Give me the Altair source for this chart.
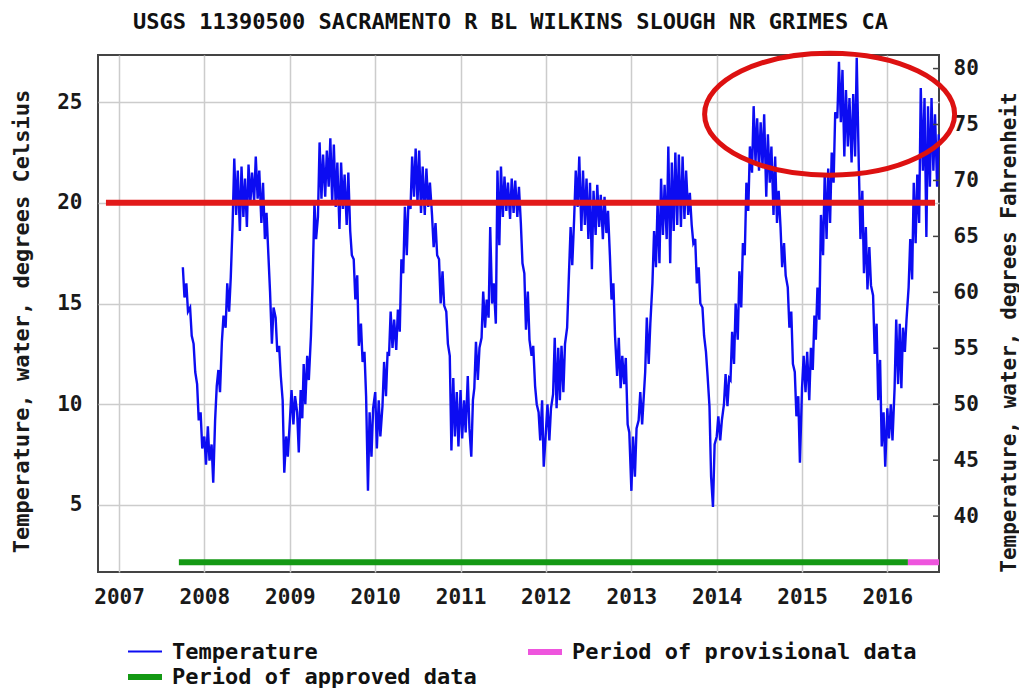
import altair as alt
import pandas as pd

FONT = "DejaVu Sans Mono"

TITLE = "USGS 11390500 SACRAMENTO R BL WILKINS SLOUGH NR GRIMES CA"
LEFT_TITLE = "Temperature, water, degrees Celsius"
RIGHT_TITLE = "Temperature, water, degrees Fahrenheit"

YEAR_TICKS = list(range(2007, 2017))
C_TICKS = [5, 10, 15, 20, 25]
F_TICKS = [40, 45, 50, 55, 60, 65, 70, 75, 80]
C_DOMAIN = [1.67, 27.34]
F_DOMAIN = [c * 9 / 5 + 32 for c in C_DOMAIN]

# approximate weekly readings (days of month), deg C
SAMPLE_DAYS = [1, 8, 16, 23]

t2007 = [16.8, 15.3, 16.0, 14.6, 14.8, 13.4, 13.0, 11.6, 11.0, 9.2, 9.6, 7.8]  # Oct-Dec
t2008 = [8.4, 7.0, 8.9, 7.2, 8.0, 6.1, 9.2, 10.9, 11.7, 10.6, 13.1, 14.4,
         13.8, 16.0, 14.6, 16.3, 19.0, 22.2, 19.4, 21.6, 18.6, 21.8, 19.3, 21.2,
         18.8, 21.9, 20.0, 21.5, 20.1, 22.3, 20.2, 21.6, 19.0, 21.0, 18.2, 19.5,
         17.4, 15.6, 13.0, 14.8, 14.3, 12.6, 12.9, 11.4, 10.2, 6.6, 8.4, 7.4]
t2009 = [9.2, 10.7, 9.0, 10.4, 9.6, 7.6, 10.7, 9.3, 12.0, 10.0, 12.4, 11.2,
         13.4, 16.0, 20.0, 18.2, 19.3, 23.0, 20.2, 22.4, 20.3, 22.6, 20.8, 23.2,
         20.0, 22.9, 19.8, 22.0, 18.7, 22.0, 19.7, 21.4, 18.9, 21.5, 18.6, 17.4,
         17.2, 15.2, 16.4, 12.9, 14.0, 12.1, 12.6, 10.4, 5.7, 9.6, 7.4, 9.8]
t2010 = [10.6, 7.8, 10.2, 8.4, 9.9, 12.1, 10.4, 12.6, 12.4, 14.6, 12.8, 14.2,
         12.7, 14.7, 13.6, 17.2, 16.5, 19.8, 17.4, 20.0, 19.7, 22.3, 20.3, 22.7,
         20.0, 22.6, 19.5, 21.8, 19.4, 21.7, 19.8, 21.0, 19.4, 17.8, 19.0, 17.4,
         17.2, 15.0, 16.6, 14.9, 14.6, 13.0, 12.4, 7.7, 11.3, 8.4, 10.6, 7.9]
t2011 = [10.7, 8.3, 10.2, 8.6, 11.4, 8.8, 7.4, 10.2, 10.8, 13.1, 11.2, 12.8,
         13.3, 15.6, 13.8, 15.2, 14.3, 18.8, 15.0, 16.0, 14.0, 21.6, 17.9, 21.8,
         19.3, 21.3, 19.6, 21.0, 19.2, 21.2, 19.5, 21.1, 19.3, 20.8, 19.0, 17.0,
         16.5, 13.7, 15.6, 13.2, 12.4, 12.9, 10.9, 10.0, 9.6, 8.2, 10.2, 6.9]
t2012 = [8.6, 10.0, 8.2, 9.8, 10.5, 13.3, 9.8, 12.8, 10.2, 12.9, 10.6, 13.0,
         13.8, 16.2, 18.8, 16.9, 19.2, 21.6, 19.8, 22.3, 18.6, 21.6, 18.9, 21.2,
         18.2, 21.0, 16.7, 20.6, 18.4, 20.9, 18.8, 20.4, 18.2, 20.3, 18.5, 19.6,
         17.4, 15.2, 16.0, 13.4, 11.4, 13.3, 10.8, 12.4, 11.0, 12.3, 9.0, 8.6]
t2013 = [5.7, 8.4, 6.4, 8.8, 9.2, 10.6, 9.0, 10.4, 11.6, 14.3, 12.0, 14.0,
         16.0, 18.6, 16.8, 20.0, 17.0, 21.2, 18.4, 20.9, 18.2, 22.8, 17.0, 22.0,
         18.6, 22.5, 18.9, 22.4, 18.8, 22.3, 19.2, 21.6, 19.4, 20.5, 18.9, 18.0,
         18.2, 16.0, 16.8, 15.0, 14.8, 13.4, 12.6, 11.4, 9.9, 6.4, 4.9, 8.0]
t2014 = [8.4, 9.4, 8.2, 9.2, 10.0, 11.5, 9.9, 11.3, 11.2, 13.6, 12.0, 15.0,
         13.2, 16.6, 14.8, 18.0, 17.4, 21.0, 19.6, 22.8, 21.5, 24.8, 22.0, 24.2,
         21.6, 24.0, 21.8, 24.4, 20.3, 23.4, 21.0, 22.8, 19.4, 22.3, 19.0, 20.6,
         18.8, 16.8, 18.0, 16.4, 15.8, 13.8, 14.6, 12.0, 11.6, 9.4, 10.4, 7.1]
t2015 = [10.8, 12.4, 10.6, 12.6, 10.2, 12.8, 11.7, 14.4, 13.2, 15.8, 14.2, 19.4,
         17.4, 21.4, 18.2, 21.7, 19.0, 22.5, 21.0, 24.5, 24.2, 27.0, 24.0, 26.6,
         22.3, 25.6, 22.8, 25.2, 22.0, 25.4, 22.3, 27.2, 21.8, 18.2, 20.6, 16.5,
         18.8, 15.7, 17.8, 15.9, 15.4, 12.5, 14.0, 10.2, 12.2, 7.9, 9.6, 6.9]
t2016 = [9.8, 8.3, 10.0, 8.2, 10.8, 14.2, 11.0, 14.0, 10.8, 13.8, 12.6, 14.2,
         15.8, 18.2, 16.2, 21.0, 18.0, 21.4, 19.0, 25.7, 21.6, 25.2, 18.3, 24.8,
         20.8, 25.2, 21.6, 24.4, 20.8, 23.4]  # Jan - early Aug

YEAR_SERIES = [(2007, 10, t2007), (2008, 1, t2008), (2009, 1, t2009), (2010, 1, t2010),
               (2011, 1, t2011), (2012, 1, t2012), (2013, 1, t2013), (2014, 1, t2014),
               (2015, 1, t2015), (2016, 1, t2016)]

# legend fills column by column: col 1 = Temperature / approved, col 2 = provisional
SERIES_NAMES = ["Temperature", "Period of approved data", "Period of provisional data"]
SERIES_COLORS = ["#0c0cf2", "#149914", "#ee55dd"]
SERIES_WIDTHS = [2.0, 6, 6]

period_names = ["Period of approved data", "Period of provisional data"]
period_start = ["2007-09-14", "2016-03-29"]
period_end = ["2016-03-29", "2016-08-09"]
period_level_c = [2.15, 2.15]

threshold_c = [20]
threshold_start = ["2006-11-06"]
threshold_end = ["2016-07-23"]

highlight_date = ["2015-04-29"]
highlight_c = [24.4]
ELLIPSE = "M -1 0 A 1 0.488 0 1 0 1 0 A 1 0.488 0 1 0 -1 0 Z"
LEGEND_STROKE = "M -1.7 0 L 1.7 0"

rows = []
for year, m0, vals in YEAR_SERIES:
    for i, v in enumerate(vals):
        m = m0 + i // 4
        d = SAMPLE_DAYS[i % 4]
        rows.append({"date": f"{year}-{m:02d}-{d:02d}", "c": v, "series": "Temperature"})
temp_df = pd.DataFrame(rows)

period_df = pd.DataFrame({"series": period_names, "start": period_start,
                          "end": period_end, "c": period_level_c})
thr_df = pd.DataFrame({"start": threshold_start, "end": threshold_end, "c": threshold_c})
hl_df = pd.DataFrame({"date": highlight_date, "c": highlight_c})
f_df = pd.DataFrame({"f": F_TICKS})

W, H = 841, 517

x_scale = alt.Scale(type="utc",
                    domain=[alt.DateTime(year=2006, month=10, date=3, utc=True),
                            alt.DateTime(year=2016, month=8, date=9, utc=True)])
x_axis = alt.Axis(values=[alt.DateTime(year=y, month=1, date=1, utc=True) for y in YEAR_TICKS],
                  format="%Y", grid=True, tickSize=0, domain=False, labelPadding=14,
                  title=None, labelFlush=False, labelOverlap=False)
c_scale = alt.Scale(domain=C_DOMAIN, nice=False, zero=False)
c_axis = alt.Axis(values=C_TICKS, grid=True, tickSize=0, domain=False, labelPadding=16,
                  title=LEFT_TITLE, titleX=-77, titleY=266, titleAngle=270,
                  titleAlign="center", titleBaseline="middle", titleFontSize=22)

legend = alt.Legend(title=None, orient="none", legendX=34, legendY=584, columns=2,
                    columnPadding=39, rowPadding=0, symbolType=LEGEND_STROKE, symbolSize=400,
                    symbolFillColor="transparent",
                    labelFont=FONT, labelFontSize=22, labelFontWeight="bold",
                    labelColor="#111111", labelOffset=14, padding=0, labelLimit=500)
color = alt.Color("series:N", scale=alt.Scale(domain=SERIES_NAMES, range=SERIES_COLORS),
                  legend=legend)
swidth = alt.StrokeWidth("series:N", scale=alt.Scale(type="ordinal", domain=SERIES_NAMES,
                                                     range=SERIES_WIDTHS), legend=legend)

line = alt.Chart(temp_df).mark_line(interpolate="linear", strokeWidth=2.4).encode(
    x=alt.X("date:T", scale=x_scale, axis=x_axis),
    y=alt.Y("c:Q", scale=c_scale, axis=c_axis),
    color=color)

thr = alt.Chart(thr_df).mark_rule(color="#e21a1a", strokeWidth=6).encode(
    x=alt.X("start:T", scale=x_scale, axis=x_axis), x2="end:T",
    y=alt.Y("c:Q", scale=c_scale, axis=c_axis))

periods = alt.Chart(period_df).mark_rule().encode(
    x=alt.X("start:T", scale=x_scale, axis=x_axis), x2="end:T",
    y=alt.Y("c:Q", scale=c_scale, axis=c_axis),
    color=color, strokeWidth=swidth)

ellipse = alt.Chart(hl_df).mark_point(shape=ELLIPSE, size=62500, filled=False,
                                      color="#dd1111", strokeWidth=5, opacity=1).encode(
    x=alt.X("date:T", scale=x_scale, axis=x_axis),
    y=alt.Y("c:Q", scale=c_scale, axis=c_axis))

c_layers = alt.layer(line, thr, periods, ellipse)

f_ticks = alt.Chart(f_df).mark_rule(color="#444444", strokeWidth=1.5).encode(
    y=alt.Y("f:Q", scale=alt.Scale(domain=F_DOMAIN, nice=False, zero=False),
            axis=alt.Axis(orient="right", values=F_TICKS, grid=False, tickSize=0,
                          domain=False, labelPadding=14, title=RIGHT_TITLE,
                          titleX=70, titleY=277, titleAngle=270, titleAlign="center",
                          titleBaseline="middle", titleFontSize=21)),
    x=alt.value(W - 6), x2=alt.value(W))

chart = alt.layer(c_layers, f_ticks).resolve_scale(y="independent").properties(
    width=W, height=H,
    autosize=alt.AutoSizeParams(type="none"),
    padding={"left": 90, "top": 47, "right": 80, "bottom": 118},
    background="white",
    title=alt.TitleParams(TITLE, font=FONT, fontSize=22, fontWeight="bold", color="#111111",
                          anchor="middle", frame="group", offset=9, dx=-8),
).configure_view(stroke="#444444", strokeWidth=2).configure_axis(
    gridColor="#cccccc", gridWidth=1.5,
    labelFont=FONT, labelFontSize=21, labelFontWeight="bold", labelColor="#1a1a1a",
    titleFont=FONT, titleFontSize=21, titleFontWeight="bold", titleColor="#1a1a1a",
)

chart.save("out.html", embed_options={"renderer": "svg", "actions": False})
